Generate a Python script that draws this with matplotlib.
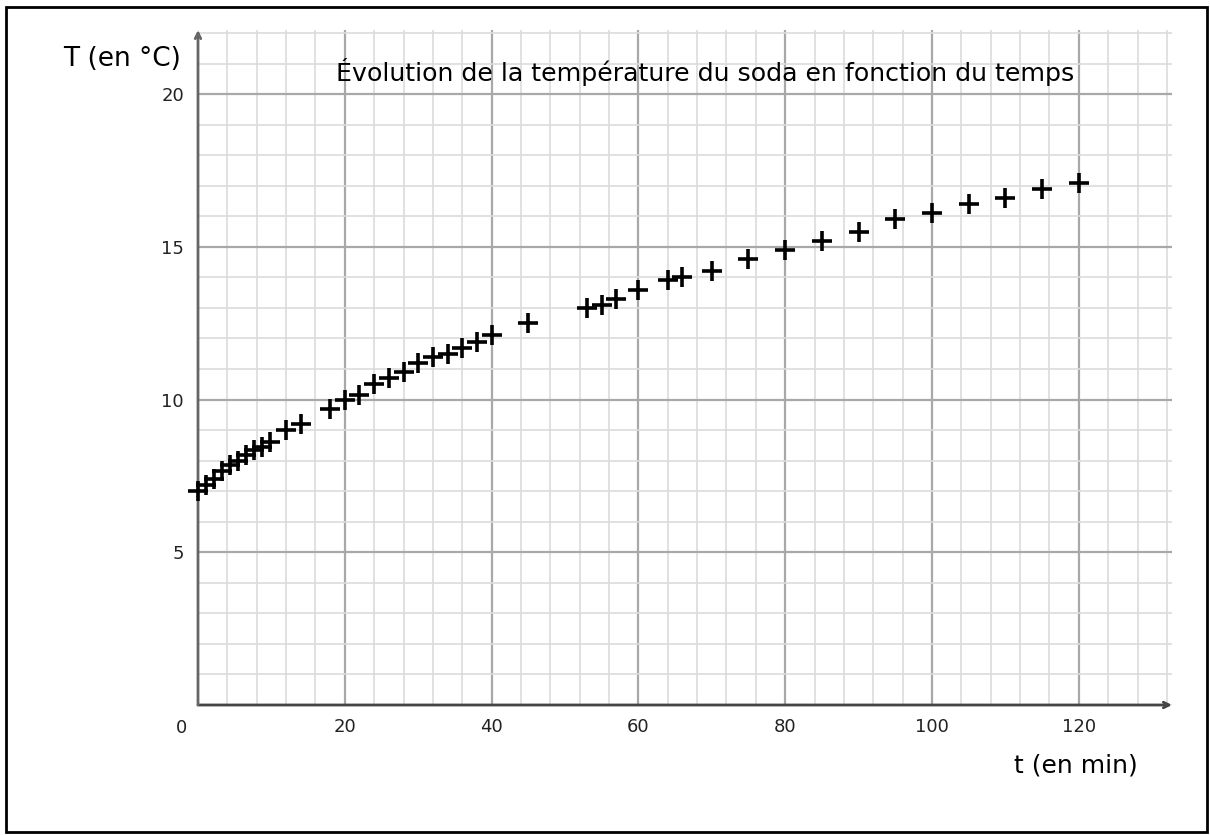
import matplotlib
matplotlib.use('Agg')
import matplotlib.pyplot as plt
from matplotlib.patches import Rectangle
from matplotlib.ticker import MultipleLocator

# Données
temps = [0, 1.1, 2.2, 3.3, 4.4, 5.4, 6.5, 7.6, 8.7, 9.8,
         12, 14, 18, 20, 22, 24, 26, 28, 30, 32, 34, 36, 38, 40,
         45, 53, 55, 57, 60, 64, 66, 70, 75, 80, 85, 90, 95, 100,
         105, 110, 115, 120]
temperature = [7.0, 7.2, 7.4, 7.65, 7.85, 8.0, 8.2, 8.35, 8.45, 8.6,
               9.0, 9.2, 9.7, 10.0, 10.15, 10.5, 10.7, 10.9, 11.2, 11.4, 11.5, 11.7, 11.9, 12.1,
               12.5, 13.0, 13.1, 13.3, 13.6, 13.9, 14.0, 14.2, 14.6, 14.9, 15.2, 15.5, 15.9, 16.1,
               16.4, 16.6, 16.9, 17.1]

x_ticks = [20, 40, 60, 80, 100, 120]
y_ticks = [5, 10, 15, 20]

fig = plt.figure(figsize=(12.1, 8.35), dpi=100)
ax = fig.add_axes([198 / 1210, 1 - 705 / 835, (1172 - 198) / 1210, (705 - 30) / 835])

xmax, ymax = 132.7, 22.1
ax.set_xlim(0, xmax)
ax.set_ylim(0, ymax)

# grille
ax.xaxis.set_minor_locator(MultipleLocator(4))
ax.yaxis.set_minor_locator(MultipleLocator(1))
ax.grid(which='minor', color='#dcdcdc', linewidth=1.2)
ax.grid(which='major', color='#a8a8a8', linewidth=1.6)
ax.set_axisbelow(True)
ax.set_xticks(x_ticks)
ax.set_yticks(y_ticks)
ax.set_xticklabels([str(v) for v in x_ticks], fontsize=13, color='#222222')
ax.set_yticklabels([str(v) for v in y_ticks], fontsize=13, color='#222222')
ax.tick_params(which='both', length=0)
ax.tick_params(axis='x', pad=9)
ax.tick_params(axis='y', pad=10)
for s in ax.spines.values():
    s.set_visible(False)

# axes avec flèches
ax.annotate('', xy=(xmax, 0), xytext=(0, 0),
            arrowprops=dict(arrowstyle='->', color='#444444', lw=2, shrinkA=0, shrinkB=0),
            annotation_clip=False)
ax.annotate('', xy=(0, ymax), xytext=(0, 0),
            arrowprops=dict(arrowstyle='->', color='#666666', lw=2, shrinkA=0, shrinkB=0),
            annotation_clip=False)

ax.scatter(temps, temperature, marker='+', s=190, linewidths=2.6, color='black',
           zorder=3, clip_on=False)

ax.text(-1.5, -0.75, '0', fontsize=13, ha='right', va='center', color='#222222')
fig.text(122 / 1210, 1 - 59 / 835, 'T (en °C)', fontsize=19, ha='center', va='center')
fig.text(1076 / 1210, 1 - 766 / 835, 't (en min)', fontsize=18, ha='center', va='center')
fig.text(705 / 1210, 1 - 72 / 835, 'Évolution de la température du soda en fonction du temps',
         fontsize=18.2, ha='center', va='center')

fig.patches.append(Rectangle((6 / 1210, 3 / 835), 1201 / 1210, 825 / 835,
                             transform=fig.transFigure, fill=False, edgecolor='black', lw=2))

fig.savefig('out.png', dpi=100)
